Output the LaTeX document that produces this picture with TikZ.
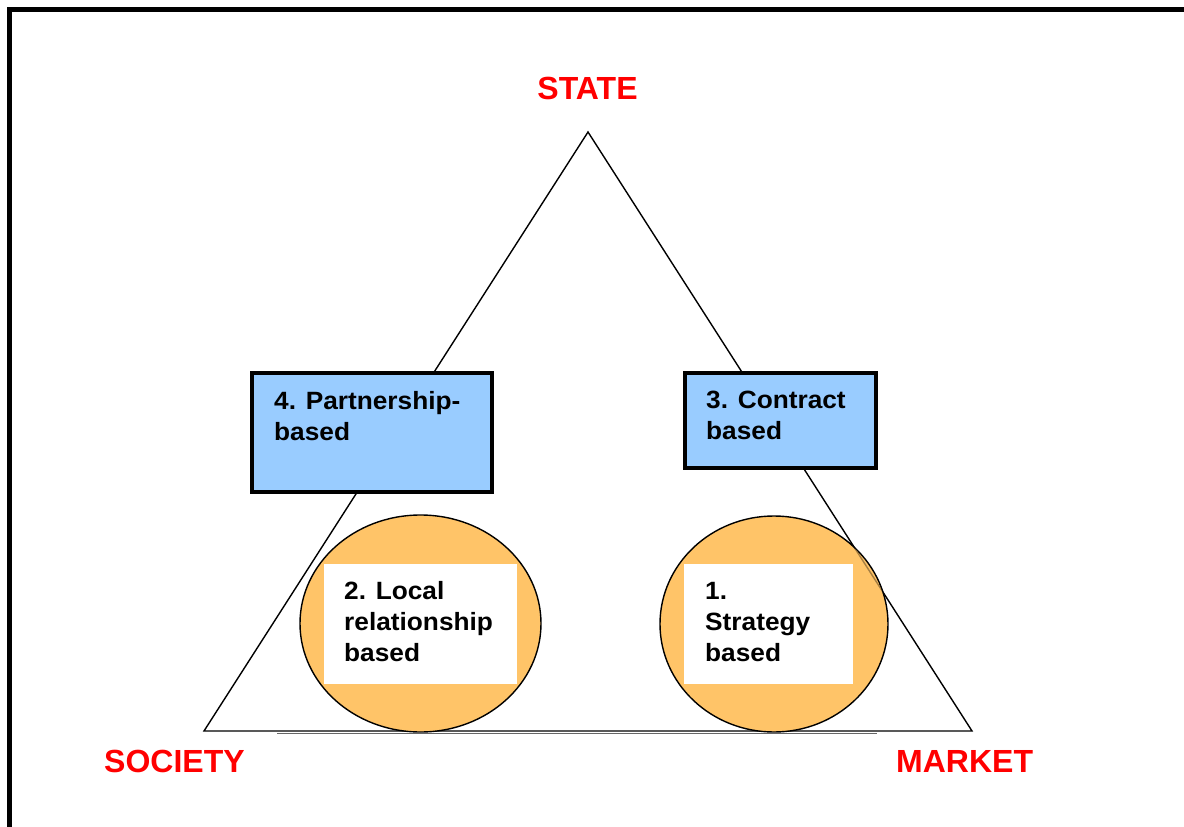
\documentclass[tikz,border=0pt]{standalone}
\usepackage{fontspec}
\setmainfont{Liberation Sans}
\newfontfamily\boxfont[FakeStretch=1.05]{Liberation Sans}
\usetikzlibrary{shapes.geometric}
\definecolor{orng}{RGB}{255,196,104}
\definecolor{lblue}{RGB}{153,204,255}
\definecolor{lred}{RGB}{255,0,0}
\tikzset{
  vlabel/.style={font=\fontsize{32}{38}\selectfont\bfseries, text=lred, inner sep=0pt},
  bluebox/.style={draw=black, line width=3.5pt, fill=lblue, inner sep=0pt},
  oval/.style={ellipse, draw=black, line width=1.4pt, fill=orng, inner sep=0pt},
  whitebox/.style={fill=white, inner sep=0pt, anchor=north west},
  btext/.style={font=\boxfont\fontsize{25}{31}\selectfont\bfseries, align=left, inner sep=0pt, anchor=north west},
  edge/.style={line width=1.4pt, black}
}
\begin{document}
\begin{tikzpicture}[x=1pt,y=-1pt]
\useasboundingbox (0,0) rectangle (1184,827);
% frame
\draw[line width=4.5pt, line join=miter] (9.3,830) -- (9.3,9.3) -- (1190,9.3);
% triangle vertices
\coordinate (apex) at (588,132);
\coordinate (left) at (204,731);
\coordinate (right) at (972,731);
\draw[edge, line join=miter] (left) -- (apex) -- (right) -- cycle;
% circles
\node[oval, minimum width=241pt, minimum height=217pt] (c2) at (420.5,623.5) {};
\node[oval, minimum width=228pt, minimum height=216pt] (c1) at (774,624) {};
% triangle edge showing through circle 1
\begin{scope}
  \clip (774,624) ellipse [x radius=113, y radius=107];
  \draw[edge, opacity=0.35] (apex) -- (right);
\end{scope}
% extra base line
\coordinate (bl) at (277,733);
\coordinate (br) at (877,733);
\draw[line width=1pt, black!60] (bl) -- (br);
% white text panels
\node[whitebox, minimum width=193pt, minimum height=120pt] (w2) at (324,564) {};
\node[whitebox, minimum width=169pt, minimum height=120pt] (w1) at (684,564) {};
\node[btext] (t2) at (344,581.5) {2. Local\\relationship\\based};
\node[btext] (t1) at (705,582) {1.\\Strategy\\based};
% blue boxes
\node[bluebox, minimum width=240pt, minimum height=119pt] (b4) at (372,432.5) {};
\node[bluebox, minimum width=191pt, minimum height=95pt] (b3) at (780.5,420.5) {};
\node[btext] (t4) at (274,391.5) {4. Partnership-\\based};
\node[btext] (t3) at (706,391) {3. Contract\\based};
% vertex labels
\node[vlabel] (state) at (587.5,88.5) {STATE};
\node[vlabel, anchor=west] (society) at (104,761.5) {SOCIETY};
\node[vlabel, anchor=west] (market) at (896,761.5) {MARKET};
\end{tikzpicture}
\end{document}
